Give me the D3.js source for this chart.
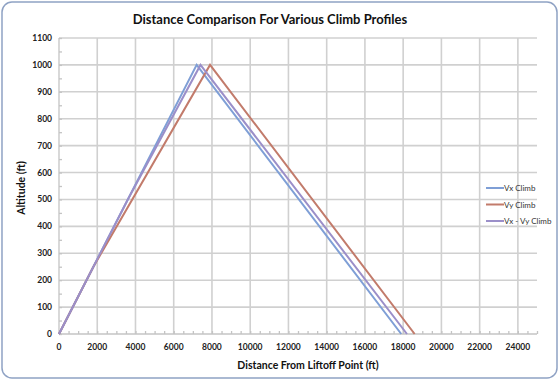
<!DOCTYPE html>
<html><head><meta charset="utf-8">
<script src="https://cdn.jsdelivr.net/npm/d3@7"></script>
<style>
html,body{margin:0;padding:0;background:#fff;}
svg{display:block;font-family:Lato,"Open Sans",sans-serif;}
</style></head>
<body>
<svg id="chart" width="560" height="381"></svg>
<script>
// ---- data ----
const seriesNames = ["Vx Climb", "Vy Climb", "Vx - Vy Climb"];
const vxDistance = [0, 7200, 17900];
const vxAltitude = [0, 1000, 0];
const vyDistance = [0, 1800, 7900, 18600];
const vyAltitude = [0, 250, 1000, 0];
const vxvyDistance = [0, 3600, 7400, 18200];
const vxvyAltitude = [0, 500, 1000, 0];
const xTicks = [0,2000,4000,6000,8000,10000,12000,14000,16000,18000,20000,22000,24000];
const yTicks = [0,100,200,300,400,500,600,700,800,900,1000,1100];
const colors = ["#7f9fd6", "#c27b6b", "#9b8fc9"];

const series = [
  {name: seriesNames[0], pts: vxDistance.map((d,i)=>[d, vxAltitude[i]]), color: colors[0]},
  {name: seriesNames[1], pts: vyDistance.map((d,i)=>[d, vyAltitude[i]]), color: colors[1]},
  {name: seriesNames[2], pts: vxvyDistance.map((d,i)=>[d, vxvyAltitude[i]]), color: colors[2]}
];

const svg = d3.select("#chart");
const pL = 59, pR = 537, pT = 38, pB = 334;
const x = d3.scaleLinear().domain([0, 25000]).range([pL, pR]);
const y = d3.scaleLinear().domain([0, 1100]).range([pB, pT]);

// frame
svg.append("rect").attr("x",2).attr("y",2).attr("width",555).attr("height",376)
  .attr("rx",10).attr("ry",10).attr("fill","#fff").attr("stroke","#8fa2c4").attr("stroke-width",1.5);

const grid = "#d0d0d0";
svg.append("g").selectAll("line").data(yTicks.filter(d=>d>0)).join("line")
  .attr("x1",pL).attr("x2",pR).attr("y1",d=>y(d)).attr("y2",d=>y(d))
  .attr("stroke",grid).attr("stroke-width",1.6);
svg.append("g").selectAll("line").data(xTicks.filter(d=>d>0)).join("line")
  .attr("x1",d=>x(d)).attr("x2",d=>x(d)).attr("y1",pT).attr("y2",pB)
  .attr("stroke",grid).attr("stroke-width",1.6);

// axes
const xAxis = d3.axisBottom(x).tickValues(d3.range(0,25001,500)).tickSize(-3).tickFormat("");
const gx = svg.append("g").attr("transform",`translate(0,${pB})`).call(xAxis);
gx.selectAll("path,line").attr("stroke","#c4c4c4").attr("stroke-width",1.3);
gx.select(".domain").attr("d",`M${pL},0H${pR}`);
const yAxis = d3.axisLeft(y).tickValues(d3.range(0,1101,50)).tickSize(-3).tickFormat("");
const gy = svg.append("g").attr("transform",`translate(${pL},0)`).call(yAxis);
gy.selectAll("path,line").attr("stroke","#c4c4c4").attr("stroke-width",1.3);
gy.select(".domain").attr("d",`M0,${pT}V${pB}`);

// tick labels
svg.append("g").selectAll("text").data(xTicks).join("text")
  .attr("x",d=>x(d)).attr("y",350).attr("text-anchor","middle")
  .attr("font-size",8.5).attr("font-weight","bold").attr("fill","#222").text(d=>d);
svg.append("g").selectAll("text").data(yTicks).join("text")
  .attr("x",52).attr("y",d=>y(d)+3).attr("text-anchor","end")
  .attr("font-size",8.5).attr("font-weight","bold").attr("fill","#222").text(d=>d);

// titles
svg.append("text").attr("x",270).attr("y",24).attr("text-anchor","middle")
  .attr("font-size",13).attr("font-weight","bold").attr("fill","#111")
  .text("Distance Comparison For Various Climb Profiles");
svg.append("text").attr("x",308).attr("y",369).attr("text-anchor","middle")
  .attr("font-size",10.5).attr("font-weight","bold").attr("fill","#111")
  .text("Distance From Liftoff Point (ft)");
svg.append("text").attr("transform","translate(25,188) rotate(-90)").attr("text-anchor","middle")
  .attr("font-size",10.5).attr("font-weight","bold").attr("fill","#111")
  .text("Altitude (ft)");

// lines
const line = d3.line().x(d=>x(d[0])).y(d=>y(d[1]));
svg.append("g").selectAll("path").data(series).join("path")
  .attr("d",d=>line(d.pts)).attr("fill","none").attr("stroke",d=>d.color)
  .attr("stroke-width",2).attr("stroke-linejoin","miter");

// legend
const lg = svg.append("g").selectAll("g").data(series).join("g")
  .attr("transform",(d,i)=>`translate(486,${188+i*16.5})`);
lg.append("line").attr("x1",0).attr("x2",18).attr("y1",0).attr("y2",0)
  .attr("stroke",d=>d.color).attr("stroke-width",2);
lg.append("text").attr("x",18).attr("y",3).attr("font-size",8).attr("fill","#333").text(d=>d.name);
</script>
</body></html>
